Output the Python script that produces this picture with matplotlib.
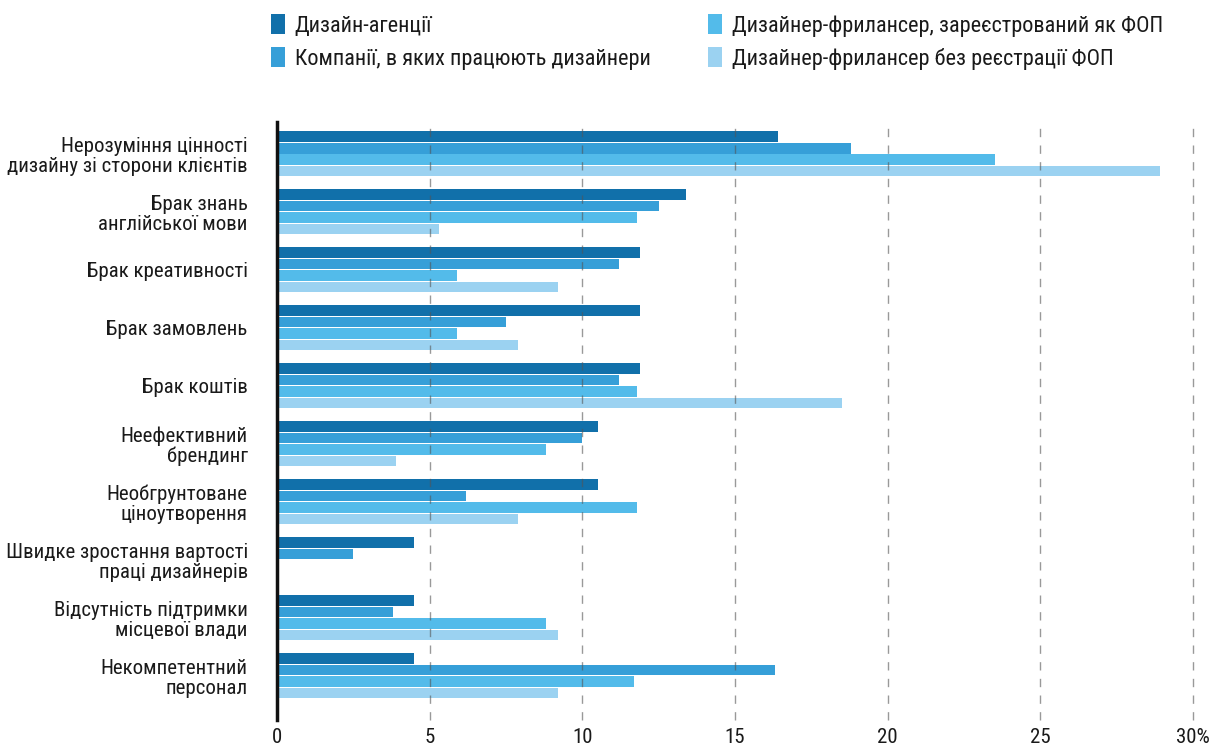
import matplotlib
matplotlib.use("Agg")
import matplotlib.pyplot as plt
import numpy as np

# categories (top to bottom)
categories = ["Нерозуміння цінності\nдизайну зі сторони клієнтів",
              "Брак знань\nанглійської мови",
              "Брак креативності",
              "Брак замовлень",
              "Брак коштів",
              "Неефективний\nбрендинг",
              "Необгрунтоване\nціноутворення",
              "Швидке зростання вартості\nпраці дизайнерів",
              "Відсутність підтримки\nмісцевої влади",
              "Некомпетентний\nперсонал"]

series_names = ["Дизайн-агенції",
                "Компанії, в яких працюють дизайнери",
                "Дизайнер-фрилансер, зареєстрований як ФОП",
                "Дизайнер-фрилансер без реєстрації ФОП"]

agencies = [16.4, 13.4, 11.9, 11.9, 11.9, 10.5, 10.5, 4.5, 4.5, 4.5]
companies = [18.8, 12.5, 11.2, 7.5, 11.2, 10.0, 6.2, 2.5, 3.8, 16.3]
fop = [23.5, 11.8, 5.9, 5.9, 11.8, 8.8, 11.8, 0, 8.8, 11.7]
no_fop = [28.9, 5.3, 9.2, 7.9, 18.5, 3.9, 7.9, 0, 9.2, 9.2]

xticks = [0, 5, 10, 15, 20, 25, 30]
xtick_labels = ["0", "5", "10", "15", "20", "25", "30%"]

colors = ["#1170aa", "#369fd8", "#53bbea", "#9bd2f1"]

plt.rcParams["font.family"] = ["Roboto Condensed", "DejaVu Sans"]
plt.rcParams["text.color"] = "#1a1a1a"

fig = plt.figure(figsize=(12.15, 7.46), dpi=100)
ax = fig.add_axes([0.228, 0.035, 0.754, 0.8016])

y = np.arange(len(categories))
pitch = 0.198
all_series = [agencies, companies, fop, no_fop]
for i, vals in enumerate(all_series):
    ax.barh(y + (i - 1.5) * pitch, vals, height=pitch * 0.93,
            color=colors[i], label=series_names[i], zorder=2)

ax.set_xlim(0, 30)
ax.set_ylim(9.76, -0.552)
ax.set_yticks(y)
ax.set_yticklabels(categories, fontsize=15, ha="right", multialignment="right",
                   linespacing=1.05, color="#1a1a1a")
ax.set_xticks(xticks)
ax.set_xticklabels(xtick_labels, fontsize=15, color="#1a1a1a")
ax.tick_params(axis="y", length=0, pad=21)
ax.tick_params(axis="x", length=0, pad=6)

for s in ["top", "right", "bottom"]:
    ax.spines[s].set_visible(False)
ax.spines["left"].set_linewidth(2.5)
ax.spines["left"].set_color("#111111")
ax.spines["left"].set_zorder(5)

for xv in xticks[1:]:
    ax.axvline(xv, color="#555555", lw=1, ls=(0, (6, 6)), alpha=0.6,
               zorder=3, clip_on=False)

leg = fig.legend(loc="upper left", bbox_to_anchor=(0.2115, 1.0), ncol=2,
                 frameon=False, fontsize=16, handlelength=0.6, handleheight=1.0,
                 handletextpad=0.45, columnspacing=2.6, labelspacing=0.47,
                 borderaxespad=0.25)

fig.savefig("out.png", dpi=100)
